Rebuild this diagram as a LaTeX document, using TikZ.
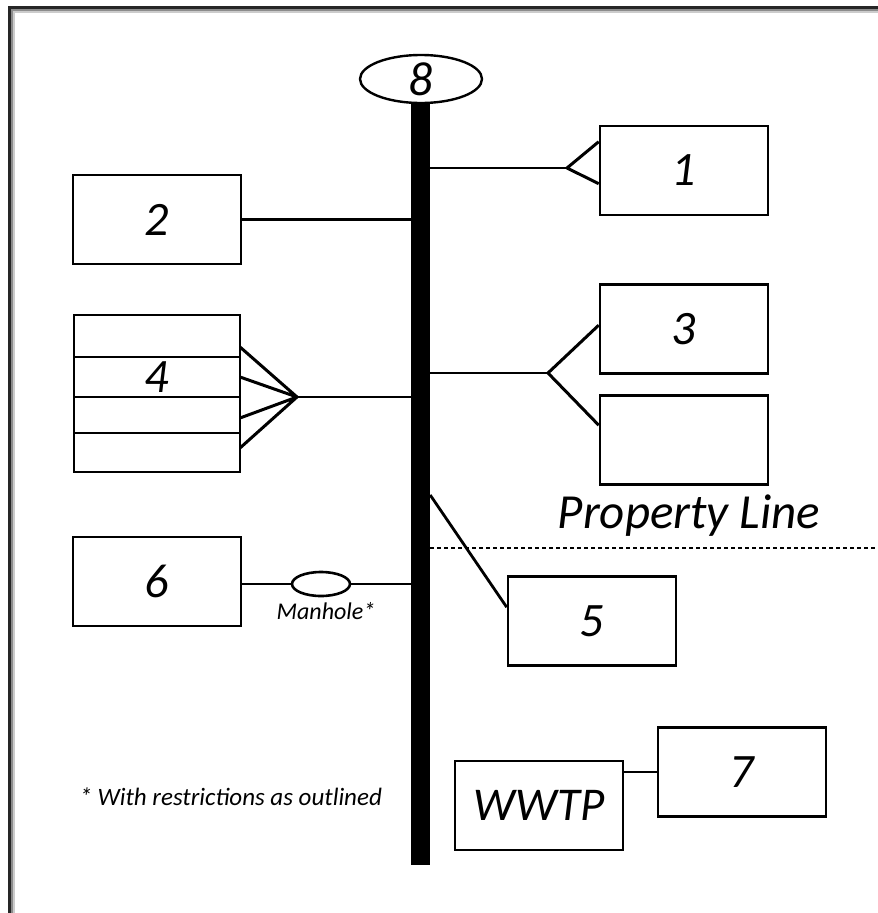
\documentclass[tikz,border=0pt]{standalone}
\usepackage{fontspec}
\setmainfont{Carlito}
\usetikzlibrary{shapes.geometric,calc}
\begin{document}
\begin{tikzpicture}[x=1pt,y=-1pt,
  box/.style={draw,line width=2.6pt,minimum width=168pt,minimum height=89pt,inner sep=0pt,font=\fontsize{48}{48}\selectfont\itshape},
  row/.style={draw,line width=2.6pt,minimum width=166pt,inner sep=0pt,outer sep=0pt,font=\fontsize{48}{48}\selectfont\itshape},
  conn/.style={line width=2.8pt},
  fan/.style={line width=3pt,line join=round}]
\useasboundingbox (0,0) rectangle (878,913);
% frame with shadow
\fill[black!85] (8,5.5) rectangle (878,9);
\fill[black!45] (10,9) rectangle (878,11);
\fill[black!20] (12,11) rectangle (878,12.5);
\fill[black!85] (7.5,5.5) rectangle (11,913);
\fill[black!45] (11,9) rectangle (13,913);
\fill[black!20] (13,11) rectangle (14.5,913);
% main bar
\node[fill=black,minimum width=19pt,minimum height=762pt,inner sep=0pt] (bar) at (420.5,484) {};
\node[draw,ellipse,line width=2.4pt,fill=white,minimum width=122pt,minimum height=48pt,inner sep=0pt,font=\fontsize{48}{48}\selectfont\itshape] (n8) at (421,79) {8};
% boxes
\node[box] (b1) at (684,170.5) {1};
\node[box] (b2) at (157,219.5) {2};
\node[box] (b3) at (684,329) {3};
\node[box] (b3b) at (684,440) {};
\node[box] (b5) at (592,621) {5};
\node[box] (b6) at (157,581.5) {6};
\node[box,font=\fontsize{47}{47}\selectfont\itshape] (wwtp) at (539,805.5) {WWTP};
\node[box] (b7) at (742,772) {7};
% box 4 rows
\node[row,minimum height=42pt] (r1) at (157,336) {};
\node[row,minimum height=40pt] (r2) at (157,377) {4};
\node[row,minimum height=36pt] (r3) at (157,415) {};
\node[row,minimum height=39pt] (r4) at (157,452.5) {};
% connector 1
\coordinate (a1) at (567,168);
\draw[conn] (a1) -- (a1 -| bar.east);
\draw[fan] ($(b1.north west)+(0,17)$) -- (a1) -- ($(b1.north west)+(0,59)$);
% connector 2
\draw[conn] (b2.east) -- (b2.east -| bar.west);
% connector 3
\coordinate (a3) at (548,373);
\draw[conn] (a3) -- (a3 -| bar.east);
\draw[fan] ($(b3.north west)+(0,42)$) -- (a3) -- ($(b3b.north west)+(0,31)$);
% connector 4
\coordinate (a4) at (297,397);
\draw[conn] (a4) -- (a4 -| bar.west);
\draw[fan] ($(r1.north east)+(0,32)$) -- (a4) -- ($(r2.north east)+(0,20)$);
\draw[fan] ($(r3.north east)+(0,21)$) -- (a4) -- ($(r4.north east)+(0,15)$);
% connector 5
\coordinate (a5) at (bar.east |- 0,495);
\draw[conn] (a5) -- ($(b5.north west)+(0,32)$);
% connector 6 with manhole
\node[draw,ellipse,line width=2.6pt,minimum width=58pt,minimum height=24pt,inner sep=0pt] (mh) at (321,584) {};
\draw[conn] (b6.east |- mh.west) -- (mh.west);
\draw[conn] (mh.east) -- (mh.east -| bar.west);
\node[font=\fontsize{24}{24}\selectfont\itshape] (mhl) at (326,611) {Manhole*};
% WWTP - 7
\draw[conn] (wwtp.east |- b7.west) -- (b7.west);
% property line
\node[font=\fontsize{49}{49}\selectfont\itshape] (pl) at (689,516) {Property Line};
\coordinate (pe) at (878,548);
\draw[line width=1.6pt,dash pattern=on 4pt off 3pt] (bar.east |- pe) -- (pe);
% footnote
\node[font=\fontsize{25}{25}\selectfont\itshape,anchor=west] (fn) at (76,797) {* With restrictions as outlined};
\end{tikzpicture}
\end{document}
